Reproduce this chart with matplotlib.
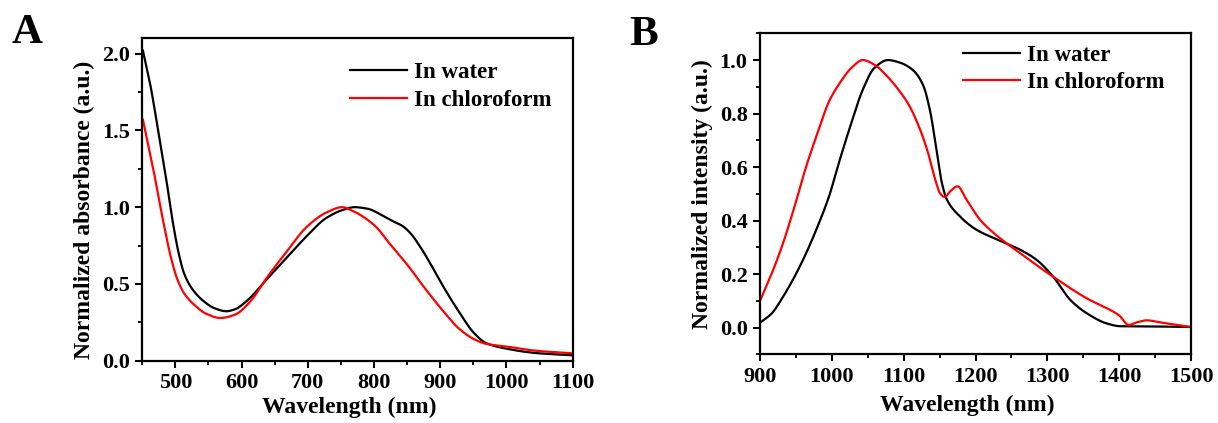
import numpy as np
import matplotlib
matplotlib.use('Agg')
import matplotlib.pyplot as plt
from matplotlib.ticker import MultipleLocator

plt.rcParams['font.family'] = ['Liberation Serif', 'DejaVu Serif']
plt.rcParams['font.weight'] = 'bold'
plt.rcParams['axes.labelweight'] = 'bold'

# Panel A: absorbance
abs_wl_water = [451, 462, 474, 487, 497, 505, 513, 525, 542, 560, 577, 590, 608, 638, 668, 698,
                728, 755, 770, 790, 815, 830, 842, 855, 870, 888, 905, 928, 951, 969, 1004,
                1044, 1100]
abs_water = [2.02, 1.80, 1.50, 1.16, 0.88, 0.70, 0.57, 0.47, 0.39, 0.34, 0.322, 0.335, 0.39,
             0.53, 0.67, 0.81, 0.93, 0.985, 1.0, 0.99, 0.94, 0.905, 0.88, 0.83, 0.74, 0.61,
             0.48, 0.32, 0.18, 0.115, 0.075, 0.05, 0.035]
abs_wl_chcl3 = [451, 467, 482, 494, 503, 513, 527, 547, 568, 590, 613, 638, 668, 698, 728, 752,
                768, 801, 824, 853, 870, 888, 905, 928, 951, 969, 1004, 1044, 1100]
abs_chcl3 = [1.57, 1.24, 0.90, 0.66, 0.53, 0.44, 0.37, 0.305, 0.278, 0.30, 0.385, 0.54, 0.71,
             0.87, 0.965, 1.0, 0.975, 0.88, 0.76, 0.61, 0.51, 0.41, 0.32, 0.21, 0.14, 0.11,
             0.09, 0.065, 0.048]

# Panel B: emission
em_wl_water = [901, 916, 932, 948, 964, 980, 996, 1011, 1027, 1043, 1059, 1078, 1095, 1113,
               1127, 1137, 1146, 1153, 1160, 1178, 1201, 1230, 1262, 1285, 1308, 1332, 1355,
               1383, 1401, 1450, 1500]
em_water = [0.02, 0.052, 0.115, 0.19, 0.277, 0.377, 0.49, 0.627, 0.764, 0.889, 0.97, 1.0,
            0.99, 0.962, 0.906, 0.806, 0.655, 0.542, 0.479, 0.416, 0.366, 0.329, 0.291, 0.253,
            0.19, 0.103, 0.053, 0.015, 0.005, 0.004, 0.002]
em_wl_chcl3 = [900, 916, 932, 948, 964, 980, 996, 1011, 1027, 1043, 1059, 1075, 1091, 1107,
               1123, 1134, 1144, 1151, 1157, 1165, 1175, 1187, 1206, 1225, 1262, 1308, 1355,
               1392, 1400, 1413, 1425, 1438, 1460, 1480, 1500]
em_chcl3 = [0.1, 0.2, 0.315, 0.452, 0.60, 0.727, 0.845, 0.914, 0.97, 1.0, 0.983, 0.945, 0.895,
            0.833, 0.739, 0.652, 0.552, 0.50, 0.488, 0.51, 0.528, 0.48, 0.404, 0.354, 0.278,
            0.19, 0.109, 0.059, 0.045, 0.01, 0.02, 0.027, 0.018, 0.01, 0.002]


def pchip(xp, yp, n=800):
    # monotone cubic through the read-off points
    xp = np.asarray(xp, float)
    yp = np.asarray(yp, float)
    h = np.diff(xp)
    d = np.diff(yp) / h
    m = np.zeros_like(yp)
    m[0], m[-1] = d[0], d[-1]
    for i in range(1, len(yp) - 1):
        if d[i - 1] * d[i] > 0:
            w1 = 2 * h[i] + h[i - 1]
            w2 = h[i] + 2 * h[i - 1]
            m[i] = (w1 + w2) / (w1 / d[i - 1] + w2 / d[i])
    x = np.linspace(xp[0], xp[-1], n)
    idx = np.clip(np.searchsorted(xp, x) - 1, 0, len(h) - 1)
    t = (x - xp[idx]) / h[idx]
    y = ((2 * t**3 - 3 * t**2 + 1) * yp[idx] + (t**3 - 2 * t**2 + t) * h[idx] * m[idx]
         + (-2 * t**3 + 3 * t**2) * yp[idx + 1] + (t**3 - t**2) * h[idx] * m[idx + 1])
    return x, y


def style(ax):
    for s in ax.spines.values():
        s.set_linewidth(1.6)
    ax.tick_params(which='major', direction='out', length=5, width=1.5, labelsize=16, pad=4)
    ax.tick_params(which='minor', direction='out', length=3, width=1.3)
    for lab in ax.get_xticklabels() + ax.get_yticklabels():
        lab.set_fontweight('bold')


fig = plt.figure(figsize=(12.18, 4.23), dpi=100)

axA = fig.add_axes([0.1168, 0.1473, 0.3534, 0.7622])
x, y = pchip(abs_wl_water, abs_water)
axA.plot(x, y, color='black', lw=1.6, label='In water')
x, y = pchip(abs_wl_chcl3, abs_chcl3)
axA.plot(x, y, color='red', lw=1.6, label='In chloroform')
axA.set_xlim(450, 1100)
axA.set_ylim(0, 2.1)
axA.xaxis.set_minor_locator(MultipleLocator(50))
axA.yaxis.set_major_locator(MultipleLocator(0.5))
axA.yaxis.set_minor_locator(MultipleLocator(0.25))
axA.set_xticks([500, 600, 700, 800, 900, 1000, 1100])
axA.set_xlabel('Wavelength (nm)', fontsize=17)
axA.set_ylabel('Normalized absorbance (a.u.)', fontsize=17, labelpad=5)
axA.xaxis.set_label_coords(0.48, -0.111)
axA.yaxis.label.set_y(0.467)
style(axA)
axA.legend(loc='center left', bbox_to_anchor=(0.483, 0.85), frameon=False, fontsize=16.5,
           handlelength=2.5, handletextpad=0.3, labelspacing=0.33, borderpad=0, borderaxespad=0)

axB = fig.add_axes([0.624, 0.1624, 0.3539, 0.7589])
x, y = pchip(em_wl_water, em_water)
axB.plot(x, y, color='black', lw=1.6, label='In water')
x, y = pchip(em_wl_chcl3, em_chcl3)
axB.plot(x, y, color='red', lw=1.6, label='In chloroform')
axB.set_xlim(900, 1500)
axB.set_ylim(-0.1, 1.1)
axB.xaxis.set_major_locator(MultipleLocator(100))
axB.xaxis.set_minor_locator(MultipleLocator(50))
axB.yaxis.set_minor_locator(MultipleLocator(0.1))
axB.set_yticks([0.0, 0.2, 0.4, 0.6, 0.8, 1.0])
axB.set_xlabel('Wavelength (nm)', fontsize=17)
axB.set_ylabel('Normalized intensity (a.u.)', fontsize=17, labelpad=5)
axB.xaxis.set_label_coords(0.48, -0.1255)
style(axB)
axB.legend(loc='center left', bbox_to_anchor=(0.471, 0.889), frameon=False, fontsize=16.5,
           handlelength=2.5, handletextpad=0.3, labelspacing=0.25, borderpad=0, borderaxespad=0)

fig.text(12 / 1218, 1 - 43 / 423, 'A', fontsize=31, fontweight='bold', va='baseline')
fig.text(629 / 1218, 1 - 45 / 423, 'B', fontsize=31, fontweight='bold', va='baseline')

fig.savefig('out.png', dpi=100)
